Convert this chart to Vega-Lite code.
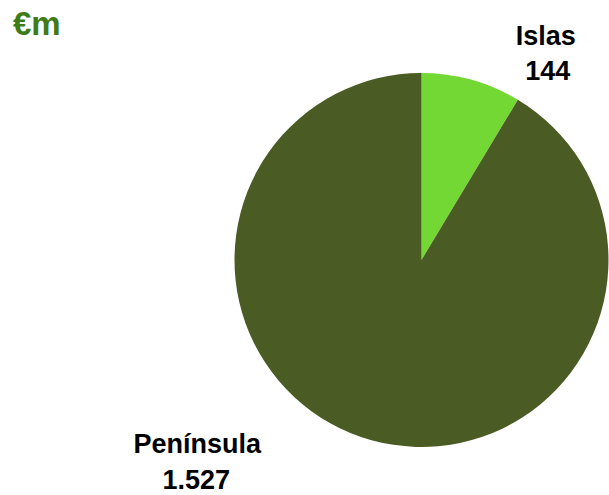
{
  "$schema": "https://vega.github.io/schema/vega-lite/v6.json",
  "autosize": "none",
  "width": 375,
  "height": 376,
  "padding": {"left": 234, "top": 72, "right": 0, "bottom": 47},
  "background": "white",
  "title": {
    "text": "€m",
    "anchor": "start",
    "frame": "group",
    "dx": -221,
    "dy": 19,
    "offset": 0,
    "font": "Liberation Sans",
    "fontSize": 33,
    "fontWeight": "bold",
    "color": "#3e7c17"
  },
  "data": {
    "values": [
      {"name": "Islas", "value": 144},
      {"name": "Península", "value": 1527}
    ]
  },
  "encoding": {
    "theta": {"field": "value", "type": "quantitative", "stack": true},
    "order": {"field": "name", "sort": "ascending"}
  },
  "layer": [
    {
      "mark": {"type": "arc", "outerRadius": 187, "stroke": null},
      "encoding": {
        "color": {
          "field": "name",
          "type": "nominal",
          "scale": {"domain": ["Islas", "Península"], "range": ["#74d834", "#4b5b24"]},
          "legend": null
        }
      }
    },
    {
      "mark": {
        "type": "text",
        "radius": 210,
        "font": "Liberation Sans",
        "fontSize": 27,
        "fontWeight": "bold",
        "color": "black",
        "align": "center",
        "baseline": "alphabetic",
        "dx": {"expr": "datum.name == 'Islas' ? 68 : -168"},
        "dy": {"expr": "datum.name == 'Islas' ? -13 : -9"}
      },
      "encoding": {"text": {"field": "name", "type": "nominal"}}
    },
    {
      "mark": {
        "type": "text",
        "radius": 210,
        "font": "Liberation Sans",
        "fontSize": 27,
        "fontWeight": "bold",
        "color": "black",
        "align": "center",
        "baseline": "alphabetic",
        "dx": {"expr": "datum.name == 'Islas' ? 70 : -169"},
        "dy": {"expr": "datum.name == 'Islas' ? 22 : 27"}
      },
      "encoding": {"text": {"field": "value", "type": "quantitative", "format": ","}}
    }
  ],
  "config": {
    "view": {"stroke": null},
    "locale": {"number": {"decimal": ",", "thousands": ".", "grouping": [3], "currency": ["", "€"]}}
  }
}
